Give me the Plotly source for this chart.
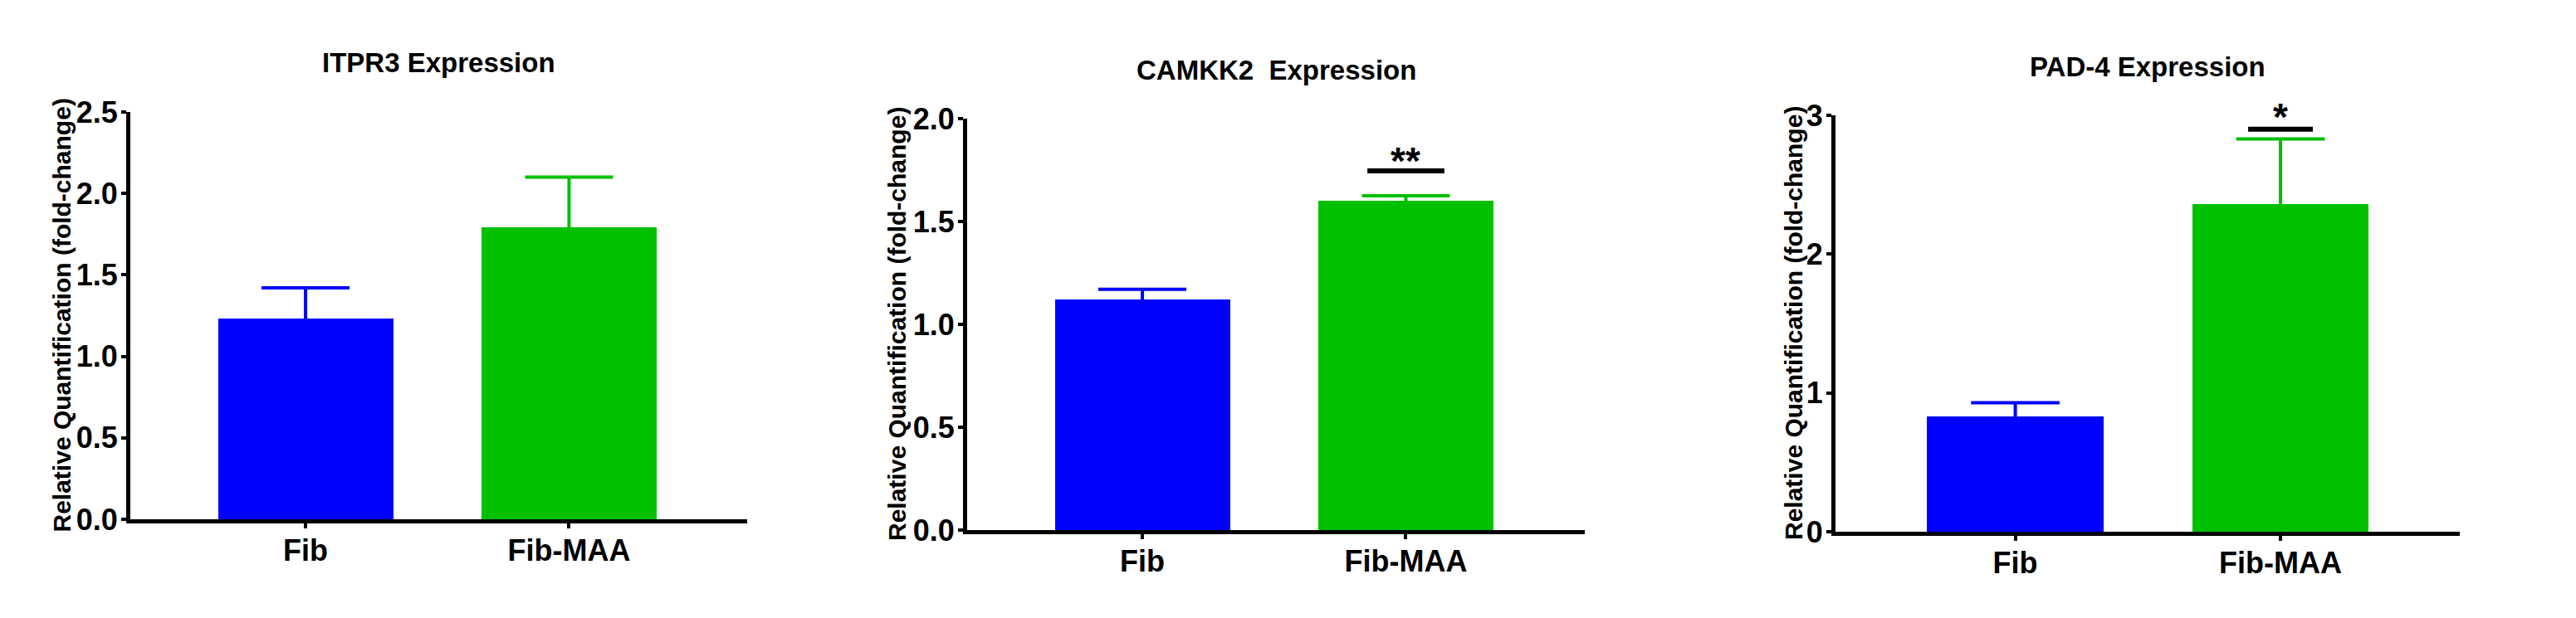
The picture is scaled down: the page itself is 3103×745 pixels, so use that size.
import plotly.graph_objects as go

# ---------------- data ----------------
categories = ["Fib", "Fib-MAA"]

itpr3_mean = [1.23, 1.79]
itpr3_sem = [0.19, 0.31]

camkk2_mean = [1.12, 1.60]
camkk2_sem = [0.05, 0.025]

pad4_mean = [0.83, 2.36]
pad4_sem = [0.10, 0.47]

panel_titles = ["ITPR3 Expression", "CAMKK2  Expression", "PAD-4 Expression"]
y_title = "Relative Quantification (fold-change)"

y_max = [2.5, 2.0, 3.0]
y_dtick = [0.5, 0.5, 1.0]
y_tickformat = [".1f", ".1f", "d"]

# significance markers
sig_panel = [1, 2]
sig_cat = [1, 1]
sig_line_y = [1.746, 2.90]
sig_star_y = [1.83, 3.04]
sig_label = ["**", "*"]

# ---------------- style / layout ----------------
W, H = 3103, 745
OFF = 8  # page body margin of the html page
BLUE = "#0000FF"
GREEN = "#00C000"
FONT = "Liberation Sans, Arial, Helvetica, sans-serif"
bar_colors = [BLUE, GREEN]
bar_width = 0.665
cap_halfwidth = 0.167

# pixel geometry of each panel in the target picture (left, right, bottom, top)
panel_px = [(157, 900, 626, 135), (1165, 1909, 639, 143), (2211, 2963, 641, 139)]
x_ranges = [(-0.665, 1.676), (-0.665, 1.679), (-0.678, 1.676)]
title_cap_center_px = [73, 81, 78]
ytitle_center_px = [74, 1080, 2160]
sig_halfwidth = [0.146, 0.122]

means = [itpr3_mean, camkk2_mean, pad4_mean]
sems = [itpr3_sem, camkk2_sem, pad4_sem]


def px_x(v):
    return (v - OFF) / W


def px_y(v):
    return 1 - (v - OFF) / H


fig = go.Figure()
annotations = []
ydomains = []

for p in range(3):
    ax = "" if p == 0 else str(p + 1)
    xref, yref = "x" + ax, "y" + ax
    for c, cat in enumerate(categories):
        m, s = means[p][c], sems[p][c]
        fig.add_trace(go.Bar(
            x=[c], y=[m], width=bar_width,
            marker=dict(color=bar_colors[c], line=dict(width=0)),
            xaxis=xref, yaxis=yref, showlegend=False, hoverinfo="skip",
        ))
        # upper-only error bar: stem + cap
        fig.add_trace(go.Scatter(
            x=[c, c, None, c - cap_halfwidth, c + cap_halfwidth],
            y=[m, m + s, None, m + s, m + s],
            mode="lines", line=dict(color=bar_colors[c], width=4),
            xaxis=xref, yaxis=yref, showlegend=False, hoverinfo="skip", cliponaxis=False,
        ))
    l, r, b, t = panel_px[p]
    xd = [px_x(l), px_x(r)]
    yd = [px_y(b), px_y(t)]
    ydomains.append(yd)
    axis_common = dict(showline=True, linewidth=5, linecolor="black", ticks="outside",
                       ticklen=6, tickwidth=4, tickcolor="black", showgrid=False,
                       zeroline=False, mirror=False, automargin=False)
    fig.update_layout(**{
        "xaxis" + ax: dict(domain=xd, range=list(x_ranges[p]), tickmode="array",
                           tickvals=[0, 1], ticktext=categories, ticklabelstandoff=-4,
                           tickfont=dict(family=FONT, size=36, color="black", weight="bold"),
                           anchor=yref, **axis_common),
        "yaxis" + ax: dict(domain=yd, range=[0, y_max[p]], dtick=y_dtick[p], tick0=0,
                           tickformat=y_tickformat[p], ticklabelstandoff=-3,
                           tickfont=dict(family=FONT, size=36, color="black", weight="bold"),
                           anchor=xref, **axis_common),
    })
    annotations.append(dict(text=panel_titles[p], x=(xd[0] + xd[1]) / 2, y=px_y(title_cap_center_px[p]),
                            xref="paper", yref="paper", xanchor="center", yanchor="middle",
                            showarrow=False, yshift=-3,
                            font=dict(family=FONT, size=33, color="black", weight="bold")))
    annotations.append(dict(text=y_title, x=px_x(ytitle_center_px[p]), y=(yd[0] + yd[1]) / 2,
                            xref="paper", yref="paper", xanchor="center", yanchor="middle",
                            textangle=-90, showarrow=False,
                            font=dict(family=FONT, size=30, color="black", weight="bold")))

for i, p in enumerate(sig_panel):
    ax = "" if p == 0 else str(p + 1)
    c = sig_cat[i]
    hw = sig_halfwidth[i]
    fig.add_trace(go.Scatter(x=[c - hw, c + hw], y=[sig_line_y[i], sig_line_y[i]], mode="lines",
                             line=dict(color="black", width=6), xaxis="x" + ax, yaxis="y" + ax,
                             showlegend=False, hoverinfo="skip", cliponaxis=False))
    yd = ydomains[p]
    star_paper_y = yd[0] + sig_star_y[i] / y_max[p] * (yd[1] - yd[0])
    annotations.append(dict(text=sig_label[i], x=c, y=star_paper_y, xref="x" + ax, yref="paper",
                            xanchor="center", yanchor="middle", showarrow=False, yshift=-9,
                            font=dict(family=FONT, size=46, color="black", weight="bold")))

fig.update_layout(width=W, height=H, margin=dict(l=0, r=0, t=0, b=0, autoexpand=False),
                  paper_bgcolor="white", plot_bgcolor="white", annotations=annotations,
                  bargap=0, showlegend=False)

fig.write_html("out.html")
